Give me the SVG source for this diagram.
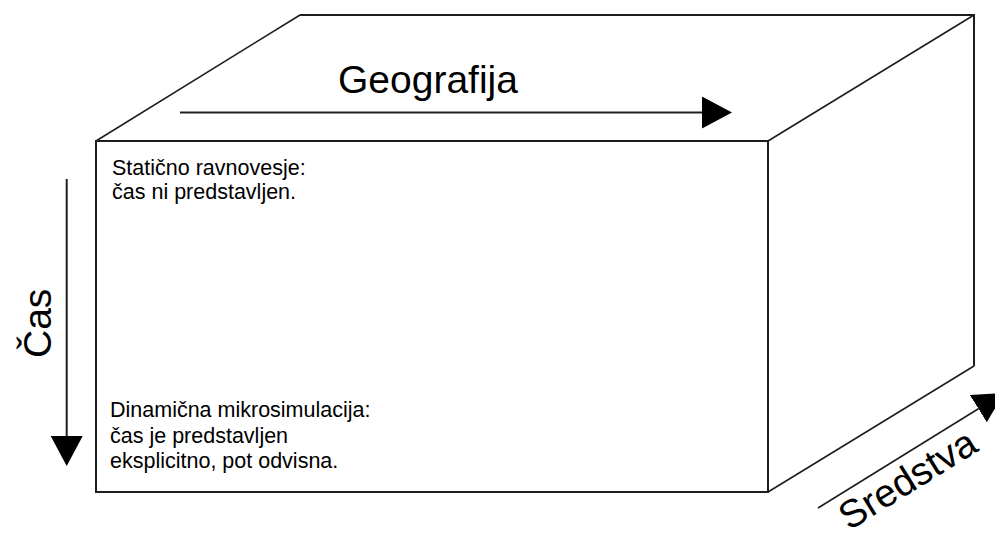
<svg xmlns="http://www.w3.org/2000/svg" width="995" height="540" viewBox="0 0 995 540">
  <defs>
    <style>
      .edge { fill: none; stroke: #1e1e1e; stroke-width: 2; stroke-linejoin: miter; }
      .depth { fill: none; stroke: #1e1e1e; stroke-width: 1.6; }
      .axis { fill: none; stroke: #1e1e1e; stroke-width: 2; }
      .label { font-family: "Liberation Sans", Arial, sans-serif; fill: #000; }
      .big { font-size: 39px; }
      .note { font-size: 21.5px; }
    </style>
    <marker id="head" markerUnits="userSpaceOnUse" markerWidth="31" markerHeight="33" refX="0" refY="16" orient="auto">
      <path d="M0,0 L30,16 L0,32 Z" fill="#000"/>
    </marker>
  </defs>

  <rect width="995" height="540" fill="#fff"/>

  <!-- box: top and side faces drawn behind the front face -->
  <g id="box-back">
    <path class="edge" d="M300,15 L974,15 L974,366"/>
    <path class="depth" d="M96,141 L300,15 M768,141 L974,15 M768,492 L974,366"/>
  </g>

  <g id="front-face">
    <rect class="edge" x="96" y="141" width="672" height="351" fill="#fff"/>
  </g>

  <g id="static-note">
    <text class="label note" x="112" y="175">Statično ravnovesje:</text>
    <text class="label note" x="112" y="199">čas ni predstavljen.</text>
  </g>

  <g id="dynamic-note">
    <text class="label note" x="110" y="417">Dinamična mikrosimulacija:</text>
    <text class="label note" x="110" y="443">čas je predstavljen</text>
    <text class="label note" x="110" y="468">eksplicitno, pot odvisna.</text>
  </g>

  <!-- axis arrows -->
  <g id="connectors">
    <path class="axis" d="M180,112.5 L702,112.5" marker-end="url(#head)"/>
    <path class="axis" d="M66.7,179 L66.7,436" marker-end="url(#head)"/>
    <path class="depth" d="M818,508 L978.4,408.7" marker-end="url(#head)"/>
  </g>

  <g id="axis-geografija">
    <text class="label big" x="338" y="93">Geografija</text>
  </g>
  <g id="axis-cas">
    <text class="label big" transform="translate(51,358) rotate(-90)">Čas</text>
  </g>
  <g id="axis-sredstva">
    <text class="label big" font-size="40" transform="translate(849,531) rotate(-31.7)">Sredstva</text>
  </g>
</svg>
